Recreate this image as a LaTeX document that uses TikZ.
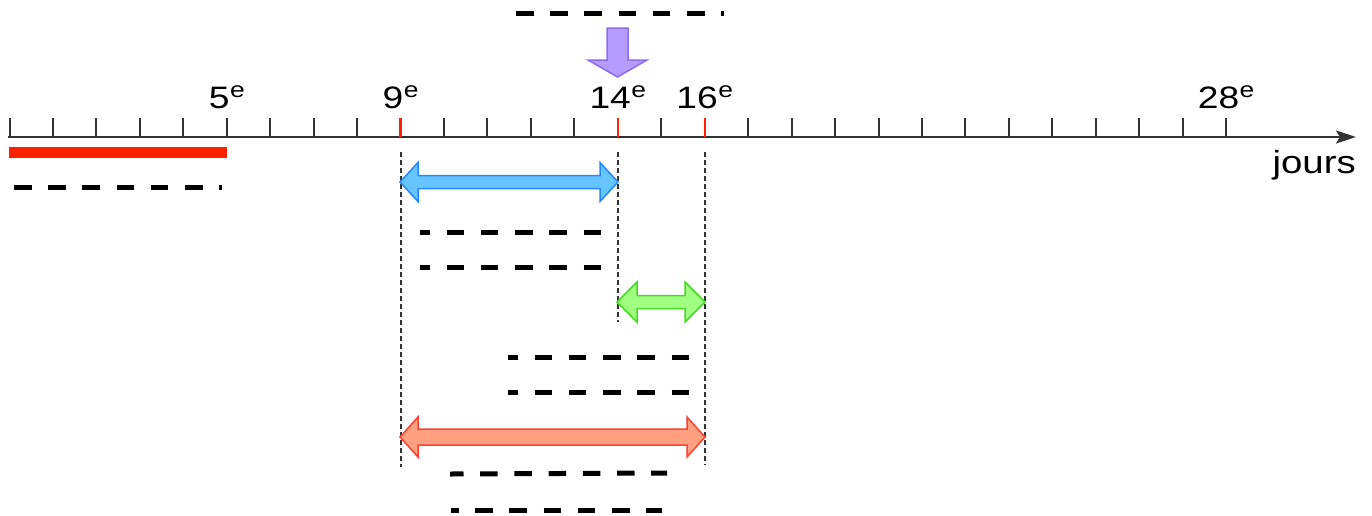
\documentclass[tikz,border=0pt]{standalone}
\usepackage{fontspec}
\newfontfamily\labfont[FakeStretch=1.2]{Liberation Sans}
\usetikzlibrary{arrows.meta}
\definecolor{barred}{HTML}{FF2000}
\definecolor{axisgray}{HTML}{333333}
\definecolor{bluefill}{HTML}{66C4FF}
\definecolor{blueedge}{HTML}{2288FF}
\definecolor{greenfill}{HTML}{A0FF80}
\definecolor{greenedge}{HTML}{44DD22}
\definecolor{salmonfill}{HTML}{FFA080}
\definecolor{salmonedge}{HTML}{FF4030}
\definecolor{purplefill}{HTML}{B49CFF}
\definecolor{purpleedge}{HTML}{8C6CF0}
\newcommand\myDArrow[7]{% x1 x2 y head-length half-shaft half-head style
  \path[#7] (#1,#3) -- (#1+#4,#3-#6) -- (#1+#4,#3-#5) -- (#2-#4,#3-#5) -- (#2-#4,#3-#6)
    -- (#2,#3) -- (#2-#4,#3+#6) -- (#2-#4,#3+#5) -- (#1+#4,#3+#5) -- (#1+#4,#3+#6) -- cycle;}
\newcommand\daylab[1]{#1\kern0.5pt\raisebox{10.5pt}{\fontsize{22}{22}\selectfont e}}
\tikzset{
  blank/.style={draw=black, line width=5pt, dash pattern=on 17.5pt off 16.7pt},
  guide/.style={draw=axisgray, line width=2pt, dash pattern=on 5pt off 3pt},
  tick/.style={draw=axisgray, line width=2pt},
  redtick/.style={draw=barred, line width=2.4pt},
  daylabel/.style={anchor=base, inner sep=0pt, font=\labfont\fontsize{31}{31}\selectfont, text=black},
  blockedge/.style={line width=1.5pt, line join=miter}
}
\begin{document}
\begin{tikzpicture}[x=1pt,y=-1pt]
\useasboundingbox (0,0) rectangle (1372,515);
\fill[white] (0,0) rectangle (1372,515);
% day coordinates
\foreach \d in {0,...,28}{
  \coordinate (d\d) at ({9.5+43.45*\d},137);
}
% axis
\coordinate (axstart) at (8,137);
\coordinate (axend) at (1356,137);
\draw[draw=axisgray, line width=2pt, -{Stealth[length=20pt,width=13pt,inset=4pt]}] (axstart) -- (axend);
\foreach \d in {0,...,28}{
  \ifnum\d=9 \else\ifnum\d=14 \else\ifnum\d=16 \else
  \draw[tick] (d\d) -- ++(0,-19);
  \fi\fi\fi
}
\draw[redtick] (d9) -- ++(0,-19);
\draw[redtick] (d14) -- ++(0,-19);
\draw[redtick] (d16) -- ++(0,-19);
% labels
\node[daylabel] (l5) at ([yshift=29pt]d5) {\daylab{5}};
\node[daylabel] (l9) at ([yshift=29pt]d9) {\daylab{9}};
\node[daylabel] (l14) at ([yshift=29pt]d14) {\daylab{14}};
\node[daylabel] (l16) at ([yshift=29pt]d16) {\daylab{16}};
\node[daylabel] (l28) at ([yshift=29pt]d28) {\daylab{28}};
\node[anchor=base east, inner sep=0pt, font=\labfont\fontsize{32}{32}\selectfont] (jours) at (1356,173) {jours};
% red bar
\fill[barred] (9,147) rectangle (227,158);
% blank dashed lines
\draw[blank] (516,13) -- (724,13);
\draw[blank] (14,187) -- (222,187);
\draw[blank, dash phase=7.5pt] (420,232) -- (602,232);
\draw[blank, dash phase=7.5pt] (420,267) -- (602,267);
\draw[blank, dash phase=7.5pt] (508,357) -- (689,357);
\draw[blank, dash phase=7.5pt] (508,392) -- (689,392);
\draw[blank, dash phase=4pt] (450,474) -- (667,473);
\draw[blank, dash phase=10pt] (451,510) -- (662,510);
% guide lines
\draw[guide] ([yshift=-15pt]d9) -- ++(0,315);
\draw[guide] ([yshift=-15pt]d14) -- ++(0,170);
\draw[guide] ([yshift=-15pt]d16) -- ++(0,313);
% block arrows
\myDArrow{400}{618}{182}{18}{6.5}{19.5}{fill=bluefill, draw=blueedge, blockedge}
\myDArrow{617}{705}{302}{20}{6.5}{20}{fill=greenfill, draw=greenedge, blockedge}
\myDArrow{400}{705}{437}{18}{8}{20}{fill=salmonfill, draw=salmonedge, blockedge}
\path[fill=purplefill, draw=purpleedge, blockedge] (607,28) -- (628,28) -- (628,60) -- (647,60) -- (617.5,77) -- (588,60) -- (607,60) -- cycle;
\end{tikzpicture}
\end{document}
